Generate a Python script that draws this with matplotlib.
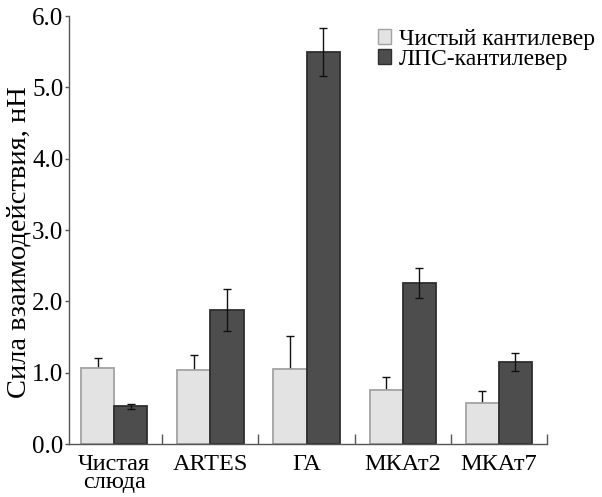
import numpy as np
import matplotlib.pyplot as plt
from matplotlib.patches import Patch

plt.rcParams['font.family'] = ['Liberation Serif', 'DejaVu Serif']

# Interaction force by substrate, clean vs LPS-coated cantilever
groups = ["Чистая\nслюда", "ARTES", "ГА", "МКАт2", "МКАт7"]
clean = [1.07, 1.04, 1.05, 0.76, 0.58]
clean_err = [0.14, 0.21, 0.46, 0.18, 0.16]
lps = [0.53, 1.88, 5.50, 2.26, 1.15]
lps_err = [0.035, 0.30, 0.34, 0.21, 0.13]

x = np.arange(len(groups))
w = 0.345

fig = plt.figure(figsize=(6.02, 4.97), dpi=100)
ax = fig.add_axes([0.1146, 0.1066, 0.794, 0.861])

ax.bar(x - w/2, clean, w, color='#e3e3e3', edgecolor='#a3a3a3', linewidth=1.3, zorder=2)
ax.errorbar(x - w/2, clean, yerr=[np.zeros(len(clean)), clean_err], fmt='none',
            ecolor='#111111', elinewidth=1.0, capsize=3, capthick=1.0, zorder=1)
ax.bar(x + w/2, lps, w, color='#4d4d4d', edgecolor='#2e2e2e', linewidth=1.3, zorder=2)
ax.errorbar(x + w/2, lps, yerr=lps_err, fmt='none',
            ecolor='#111111', elinewidth=1.0, capsize=3, capthick=1.0, zorder=3)

ax.set_xlim(-0.47, 4.5)
ax.set_ylim(0, 6.0)
ax.set_yticks(np.arange(0, 6.01, 1.0))
ax.set_yticklabels([f"{v:.1f}" for v in np.arange(0, 6.01, 1.0)], fontsize=18)
ax.tick_params(axis='y', direction='out', length=3, width=1, pad=1, color='#555555')

# ticks at group borders, labels under group centres
ax.set_xticks(np.arange(0.5, 5.0, 1.0))
ax.set_xticklabels([])
ax.tick_params(axis='x', which='major', direction='in', length=7, width=1, color='#555555')
ax.set_xticks(x, minor=True)
ax.set_xticklabels(groups, minor=True, fontsize=17.5, linespacing=0.85)
ax.tick_params(axis='x', which='minor', length=0, pad=7)

for s in ['top', 'right']:
    ax.spines[s].set_visible(False)
for s in ['left', 'bottom']:
    ax.spines[s].set_color('#555555')
    ax.spines[s].set_linewidth(1.0)

fig.text(0.031, 0.512, "Сила взаимодействия, нН", rotation=90, fontsize=20.5,
         ha='center', va='center')

handles = [Patch(facecolor='#e3e3e3', edgecolor='#a3a3a3', label='Чистый кантилевер'),
           Patch(facecolor='#4d4d4d', edgecolor='#2e2e2e', label='ЛПС-кантилевер')]
fig.legend(handles=handles, loc='upper left', bbox_to_anchor=(0.6, 0.975),
           frameon=False, fontsize=17, handlelength=0.55, handleheight=0.55,
           handletextpad=0.35, labelspacing=-0.05, borderpad=0.2)

fig.savefig('out.png', dpi=100)
